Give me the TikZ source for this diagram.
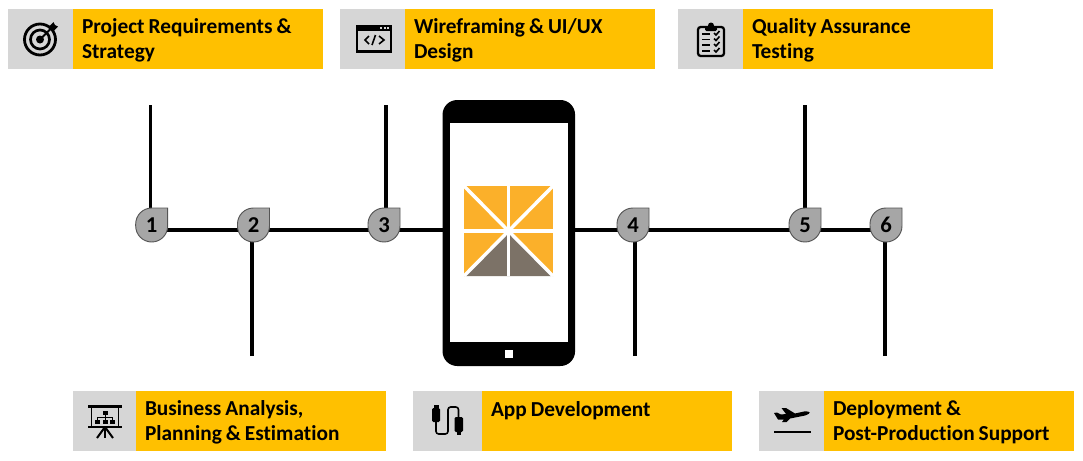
\documentclass[tikz,border=0pt]{standalone}
\usepackage{fontspec}
\setmainfont[Ligatures=NoCommon]{Carlito}
\usetikzlibrary{backgrounds}
\definecolor{boxgrey}{HTML}{D6D6D6}
\definecolor{boxyellow}{HTML}{FFC000}
\definecolor{pingrey}{HTML}{A6A6A6}
\definecolor{pinedge}{HTML}{555555}
\definecolor{logoorange}{HTML}{FBB02A}
\definecolor{logotaupe}{HTML}{7C7267}
\tikzset{
  every node/.style={outer sep=0pt},
  iconbox/.style={fill=boxgrey,inner sep=0pt,minimum height=45pt,anchor=north west},
  titlebox/.style={fill=boxyellow,inner xsep=6.75pt,inner ysep=0pt,minimum height=45pt,text width=174pt,
    align=left,anchor=north west,font=\fontsize{16}{18.75}\selectfont\bfseries},
  pinlabel/.style={circle,inner sep=0pt,minimum size=24pt,font=\fontsize{17}{17}\selectfont\bfseries},
  pinshape/.style={fill=pingrey,draw=pinedge,line width=.7pt},
  wire/.style={line width=2.4pt,black},
  logoline/.style={white,line width=2.6pt},
  icon/.style={black,line width=1.7pt},
  thinicon/.style={black,line width=1.2pt}
}
\newcommand{\firstrow}{\spaceskip=3pt\relax\rule{0pt}{12.5pt}}
\newcommand{\pinat}[4]{%
  \draw[pinshape] (#2+16,#3-17) [rounded corners=12pt] -- (#2+16,#3+17) -- (#2-16,#3+17) -- (#2-16,#3-17) [sharp corners] -- cycle;
  \node[pinlabel] (#1) at (#2,#3) {#4};
}
\begin{document}
\begin{tikzpicture}[x=.75pt,y=-.75pt]
\useasboundingbox (0,0) rectangle (1083,461);
% boxes
\node[iconbox,minimum width=48.75pt] (g1) at (8,9) {};
\node[titlebox] (y1) at (g1.north east) {\firstrow Project Requirements \&\\Strategy};
\node[iconbox,minimum width=48.75pt] (g2) at (340,9) {};
\node[titlebox] (y2) at (g2.north east) {\firstrow Wireframing \& UI/UX\\Design};
\node[iconbox,minimum width=48.75pt] (g3) at (678,9) {};
\node[titlebox] (y3) at (g3.north east) {\firstrow Quality Assurance\\Testing};
\node[iconbox,minimum width=47.25pt] (g4) at (73,391) {};
\node[titlebox] (y4) at (g4.north east) {\firstrow Business Analysis,\\Planning \& Estimation};
\node[iconbox,minimum width=51.75pt] (g5) at (413,391) {};
\node[titlebox] (y5) at (g5.north east) {\firstrow App Development\\~};
\node[iconbox,minimum width=48.75pt] (g6) at (759,391) {};
\node[titlebox] (y6) at (g6.north east) {\firstrow Deployment \&\\Post-Production Support};
% icon: target
\draw[icon,line width=2.1pt] (40,39.5) circle (15.5);
\draw[icon,line width=2pt] (40,39.5) circle (9.5);
\fill (40,39.5) circle (4);
\draw[thinicon,line width=1.5pt] (40,39.5) -- (53,26.5);
\fill (49.5,26) -- (53.5,22) -- (55,25) -- (58,26.5) -- (54,30.5) -- cycle;
% icon: code window
\draw[icon,fill=boxgrey] (357,26) rectangle (391,51.5);
\fill (356,25) rectangle (392,31);
\foreach \dx in {380,383.5,387} \fill[boxgrey] (\dx,27.2) rectangle +(2,1.6);
\draw[thinicon] (369,36) -- (365,40) -- (369,44);
\draw[thinicon] (375.5,35) -- (372,45);
\draw[thinicon] (379,36) -- (384,40) -- (379,44);
% icon: checklist
\draw[icon,rounded corners=2pt] (698,27) rectangle (724,56);
\fill[rounded corners=1pt] (705,27) rectangle (717,31);
\fill (711,25.5) circle (3);
\foreach \ry in {33,38.5,44,50}{
  \draw[thinicon] (702,\ry+1) -- (710,\ry+1);
  \draw[thinicon] (714,\ry) -- (716,\ry+2) -- (719.5,\ry-2);
}
% icon: presentation
\draw[icon,line width=2pt] (88,406.5) -- (122,406.5);
\draw[icon] (88,427) -- (122,427);
\draw[icon,line width=1.4pt] (91.5,406.5) -- (91.5,427);
\draw[icon,line width=1.4pt] (118.5,406.5) -- (118.5,427);
\draw[thinicon,line width=1.5pt] (105,427) -- (105,438);
\draw[thinicon,line width=1.5pt] (105,427) -- (97,438);
\draw[thinicon,line width=1.5pt] (105,427) -- (113,438);
\fill (102.5,410.5) rectangle +(5,4);
\draw[thinicon,line width=.7pt] (105,414) -- (105,420) (97.5,420) -- (97.5,417.5) -- (112.5,417.5) -- (112.5,420);
\fill (95,420) rectangle +(5,3.5);
\fill (102.5,420) rectangle +(5,3.5);
\fill (110,420) rectangle +(5,3.5);
% icon: cable
\fill[rounded corners=1pt] (432,408) rectangle (440,422);
\fill (433.5,405) rectangle (438.5,408);
\fill[rounded corners=1pt] (454.5,417) rectangle (463,432);
\fill (456.5,432) rectangle (461,435);
\draw[thinicon,rounded corners=2pt] (436,422) -- (436,434) -- (448,434) -- (448,407) -- (458.5,407) -- (458.5,417);
% icon: aeroplane
\fill (774,413) -- (777,412.5) -- (781,414.5) -- (786,414) -- (781.5,408) -- (786,408) -- (795,413.5) -- (804,411.5) .. controls (811,411) and (812,413) .. (805,415.5) -- (790,418.5) -- (786.5,422) -- (782,422) -- (784,419.5) -- (778,419.5) -- cycle;
\draw[icon] (774,432) -- (811,432);
% phone
\node[fill=black,rounded corners=11pt,inner sep=0pt,minimum width=99.4pt,minimum height=199.5pt] (phone) at (508.8,233) {};
\node[fill=white,inner sep=0pt,minimum width=88.5pt,minimum height=164.25pt] (screen) at (509,232.5) {};
\node[fill=white,inner sep=0pt,minimum size=6pt] (home) at (509,354) {};
% logo
\fill[logoorange] (464,186) rectangle (553,276);
\fill[logotaupe] (508.5,231) -- (553,276) -- (464,276) -- cycle;
\draw[logoline] (508.5,186) -- (508.5,276);
\draw[logoline] (464,231) -- (553,231);
\draw[logoline] (464,186) -- (553,276);
\draw[logoline] (553,186) -- (464,276);
\fill[white] (508.5,231) circle (4);
% pins
\pinat{p1}{151.7}{225}{1}
\pinat{p2}{253.5}{225}{2}
\pinat{p3}{384}{225}{3}
\pinat{p4}{633}{225}{4}
\pinat{p5}{805}{225}{5}
\pinat{p6}{886}{225}{6}
% free ends
\coordinate (t1) at (150.5,105);
\coordinate (b2) at (252,356);
\coordinate (t3) at (386,105);
\coordinate (b4) at (635,356);
\coordinate (t5) at (805,105);
\coordinate (b6) at (885,356);
\begin{scope}[on background layer]
\draw[wire] ([shift={(-1.2,5)}]p1.center) -- ([shift={(-1.5,5)}]p2.center);
\draw[wire] ([shift={(-1.5,5)}]p2.center) -- ([shift={(2,5)}]p3.center);
\draw[wire] ([shift={(2,5)}]p3.center) -- ([shift={(0,-3)}]phone.west);
\draw[wire] ([shift={(0,-3)}]phone.east) -- ([shift={(2,5)}]p4.center);
\draw[wire] ([shift={(2,5)}]p4.center) -- ([shift={(0,5)}]p5.center);
\draw[wire] ([shift={(0,5)}]p5.center) -- ([shift={(-1,5)}]p6.center);
\draw[wire] (t1) -- ([shift={(-1.2,5)}]p1.center);
\draw[wire] (b2) -- ([shift={(-1.5,5)}]p2.center);
\draw[wire] (t3) -- ([shift={(2,5)}]p3.center);
\draw[wire] (b4) -- ([shift={(2,5)}]p4.center);
\draw[wire] (t5) -- ([shift={(0,5)}]p5.center);
\draw[wire] (b6) -- ([shift={(-1,5)}]p6.center);
\end{scope}
\end{tikzpicture}
\end{document}
